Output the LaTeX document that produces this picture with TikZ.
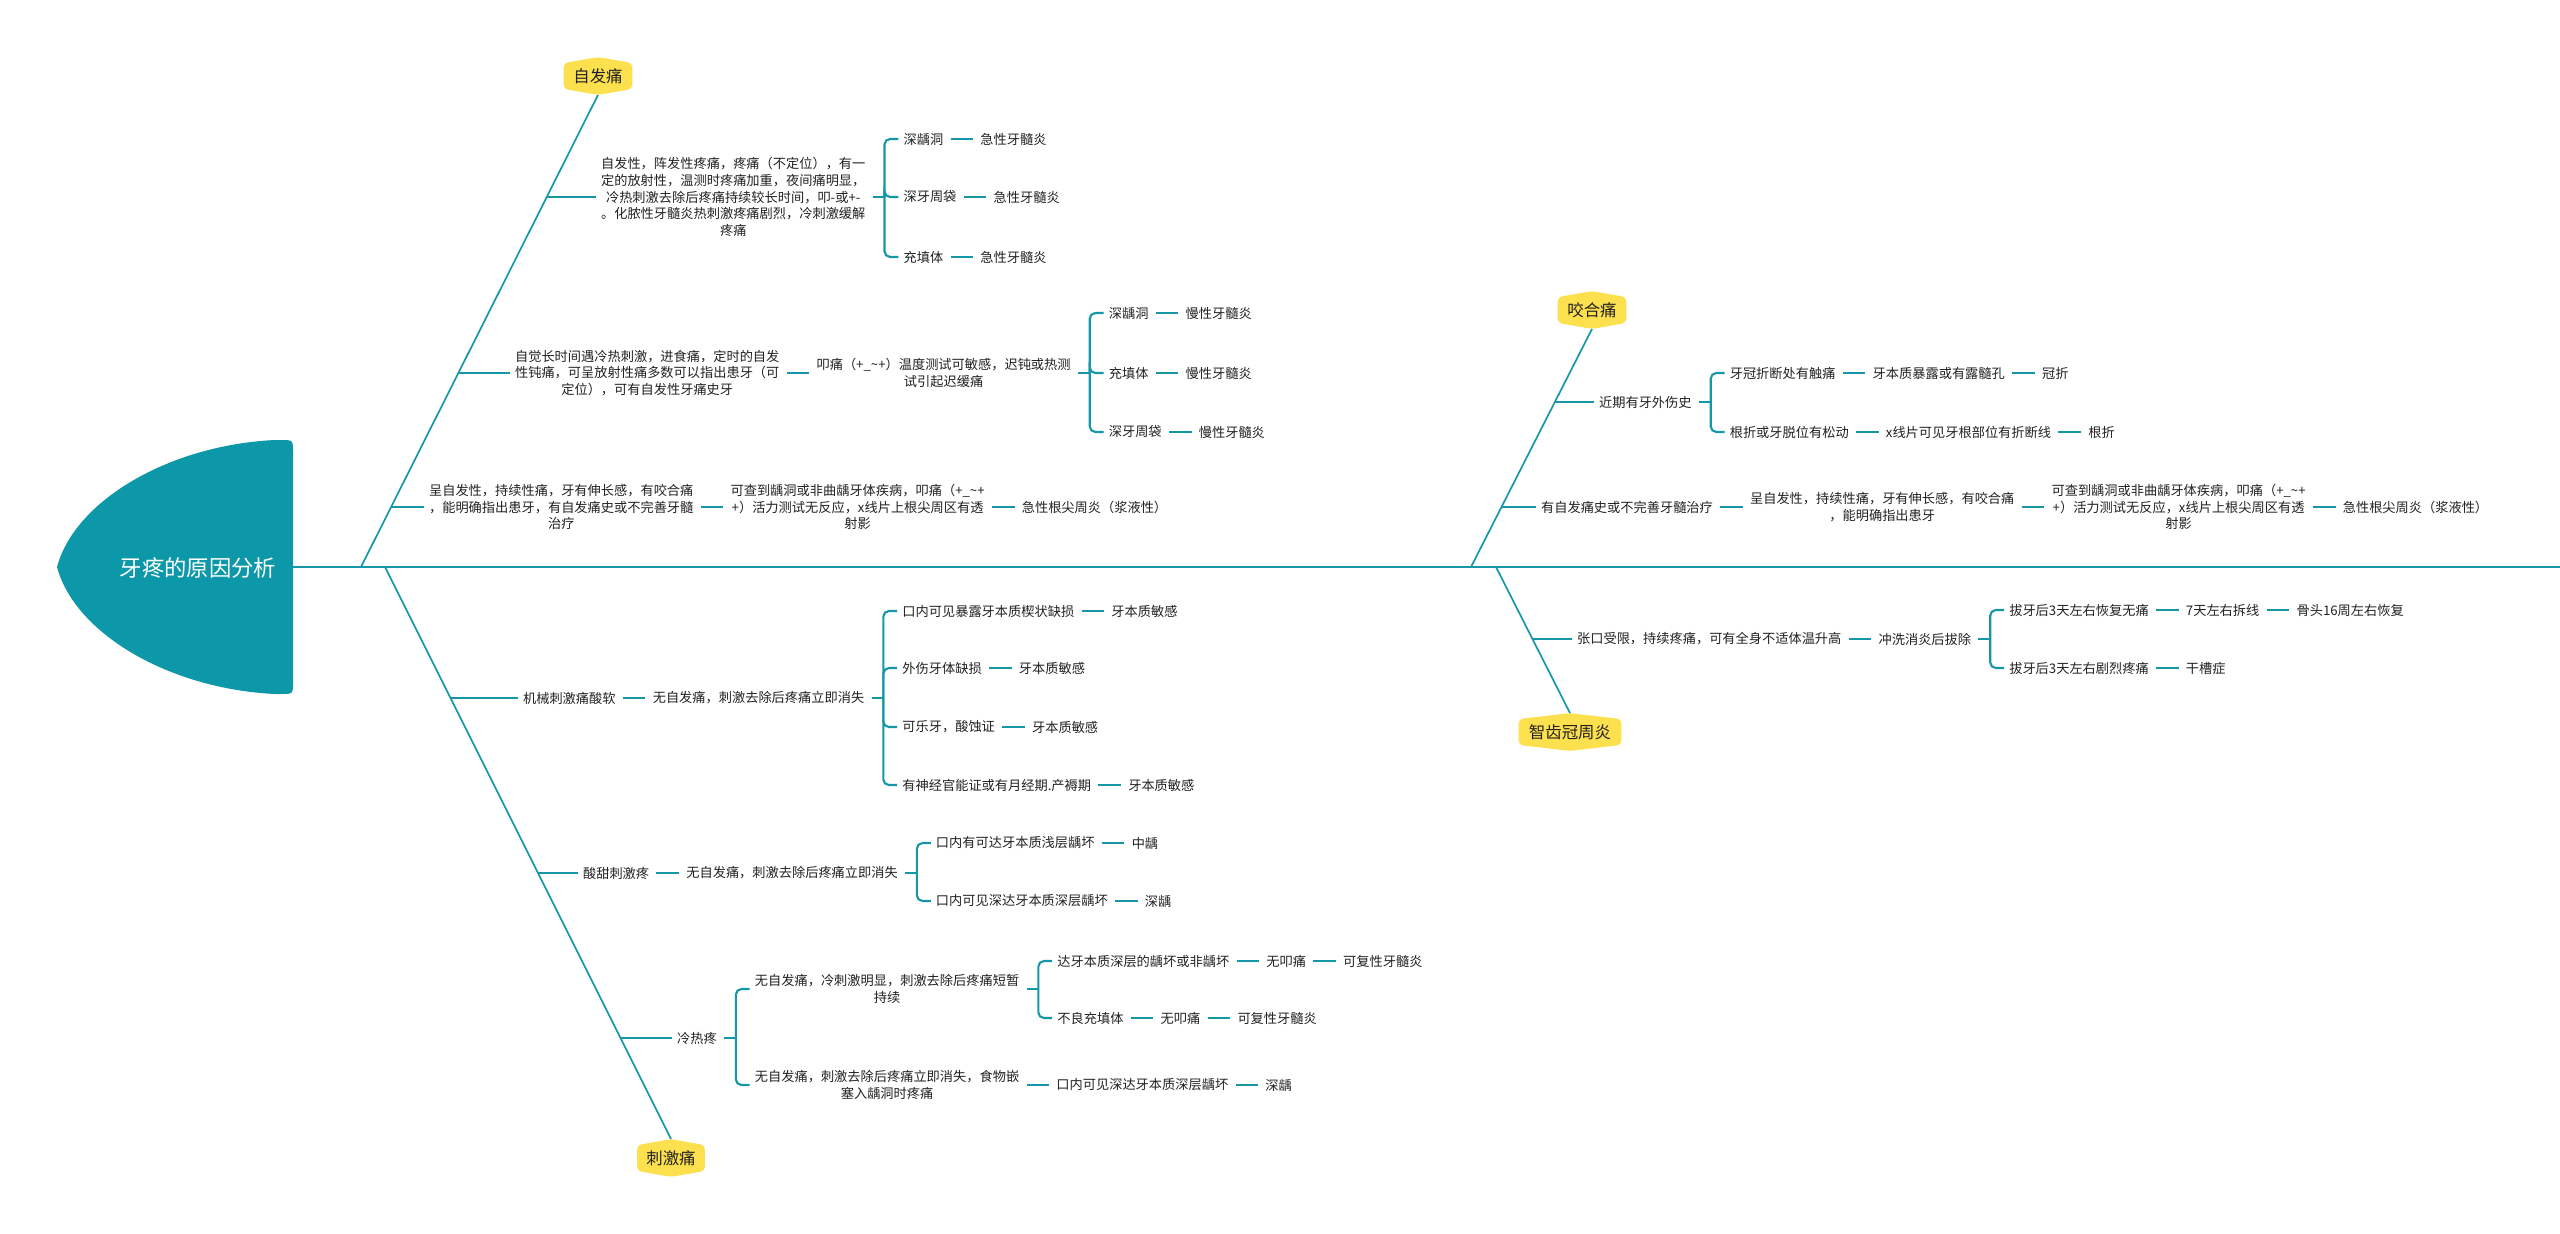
\documentclass[tikz,border=0pt]{standalone}
\usepackage{fontspec}
\setmainfont{Noto Sans CJK SC}
\usetikzlibrary{calc}
\pgfdeclarelayer{bg}
\pgfsetlayers{bg,main}
\definecolor{teal1}{HTML}{1597A8}
\definecolor{headc}{HTML}{0C98A9}
\definecolor{tagc}{HTML}{FDE04E}
\definecolor{txtc}{HTML}{222222}
\tikzset{
 txt/.style={font=\fontsize{9.4}{12}\selectfont, text=txtc, inner sep=2pt, align=center, anchor=west},
 tagn/.style={font=\fontsize{11.7}{14}\selectfont, text=txtc, inner sep=0pt, minimum height=26.5pt},
 spine/.style={draw=teal1, line width=1.5pt},
 bone/.style={draw=teal1, line width=1.2pt},
 branch/.style={draw=teal1, line width=1.2pt, shorten >=1.5pt},
 link/.style={draw=teal1, line width=1.8pt, shorten <=3pt, shorten >=3pt},
 stub/.style={draw=teal1, line width=1.5pt, shorten <=3pt},
 brk/.style={draw=teal1, line width=1.5pt, rounded corners=4pt, shorten >=1.5pt},
}
\newcommand\nxt[3]{\node[txt] (#2) at ($(#1.east)+(31,0)$) {#3}; \draw[link] (#1.east) -- (#2.west);}
\newcommand\mkbrk[2]{\coordinate (#2) at ($(#1.east)+(16,0)$); \draw[stub] (#1.east) -- (#2);}
\newcommand\kid[4]{\node[txt] (#2) at ($(#1)+(16,#3)$) {#4}; \draw[brk] (#1) |- (#2.west);}
\newcommand\tagnode[5]{%
 \node[tagn, minimum width=#4] (#1) at (#2,#3) {#5};
 \begin{pgfonlayer}{bg}
 \fill[tagc, rounded corners=3pt] ($(#1.north west)+(0,6)$) -- (#1.north) -- ($(#1.north east)+(0,6)$) -- ($(#1.south east)+(0,-6)$) -- (#1.south) -- ($(#1.south west)+(0,-6)$) -- cycle;
 \end{pgfonlayer}}
\begin{document}
\begin{tikzpicture}[x=0.25mm, y=-0.25mm]
\useasboundingbox (0,0) rectangle (2560,1233);
\begin{pgfonlayer}{bg}
\fill[white] (0,0) rectangle (2560,1233);
\end{pgfonlayer}
% head
\fill[headc] (57,567) .. controls (75,500) and (170,445) .. (275,440) -- (281,440) .. controls (293,440) .. (293,452) -- (293,682) .. controls (293,694) .. (281,694) -- (275,694) .. controls (170,689) and (75,634) .. (57,567) -- cycle;
\node[font=\fontsize{15.9}{18}\selectfont, text=white] (title) at (198,568) {牙疼的原因分析};
\coordinate (sp0) at (293,567);
\coordinate (spE) at (2560,567);
\draw[spine] (sp0) -- (spE);
% tags
\tagnode{tagA}{598}{76}{48.4pt}{自发痛}
\tagnode{tagB}{671}{1158}{47.7pt}{刺激痛}
\tagnode{tagC}{1592}{310}{48.4pt}{咬合痛}
\tagnode{tagD}{1570}{732}{72.6pt}{智齿冠周炎}
% bones
\coordinate (bUL) at (361,567);
\coordinate (bLL) at (385,567);
\coordinate (bUR) at (1471,567);
\coordinate (bLR) at (1496,567);
\draw[bone] (bUL) -- (tagA.south);
\draw[bone] (bLL) -- (tagB.north);
\draw[bone] (bUR) -- (tagC.south);
\draw[bone] (bLR) -- (tagD.north);

% ===== A1 =====
\node[txt] (a1) at (598,197) {自发性，阵发性疼痛，疼痛（不定位），有一\\定的放射性，温测时疼痛加重，夜间痛明显，\\冷热刺激去除后疼痛持续较长时间，叩-或+-\\。化脓性牙髓炎热刺激疼痛剧烈，冷刺激缓解\\疼痛};
\coordinate (jA1) at (intersection of bUL--tagA.south and a1.west--a1.east);
\draw[branch] (jA1) -- (a1.west);
\mkbrk{a1}{k1}
\kid{k1}{a11}{-58}{深龋洞} \nxt{a11}{a11r}{急性牙髓炎}
\kid{k1}{a12}{0}{深牙周袋} \nxt{a12}{a12r}{急性牙髓炎}
\kid{k1}{a13}{60}{充填体} \nxt{a13}{a13r}{急性牙髓炎}

% ===== A2 =====
\node[txt] (a2) at (512,373) {自觉长时间遇冷热刺激，进食痛，定时的自发\\性钝痛，可呈放射性痛多数可以指出患牙（可\\定位），可有自发性牙痛史牙};
\coordinate (jA2) at (intersection of bUL--tagA.south and a2.west--a2.east);
\draw[branch] (jA2) -- (a2.west);
\nxt{a2}{a2b}{叩痛（+\_\textasciitilde+）温度测试可敏感，迟钝或热测\\试引起迟缓痛}
\mkbrk{a2b}{k2}
\kid{k2}{a21}{-60}{深龋洞} \nxt{a21}{a21r}{慢性牙髓炎}
\kid{k2}{a22}{0}{充填体} \nxt{a22}{a22r}{慢性牙髓炎}
\kid{k2}{a23}{59}{深牙周袋} \nxt{a23}{a23r}{慢性牙髓炎}

% ===== A3 =====
\node[txt] (a3) at (426,507) {呈自发性，持续性痛，牙有伸长感，有咬合痛\\，能明确指出患牙，有自发痛史或不完善牙髓\\治疗};
\coordinate (jA3) at (intersection of bUL--tagA.south and a3.west--a3.east);
\draw[branch] (jA3) -- (a3.west);
\nxt{a3}{a3b}{可查到龋洞或非曲龋牙体疾病，叩痛（+\_\textasciitilde+\\+）活力测试无反应，x线片上根尖周区有透\\射影}
\nxt{a3b}{a3c}{急性根尖周炎（浆液性）}

% ===== B1 =====
\node[txt] (b1) at (520,698) {机械刺激痛酸软};
\coordinate (jB1) at (intersection of bLL--tagB.north and b1.west--b1.east);
\draw[branch] (jB1) -- (b1.west);
\nxt{b1}{b1b}{无自发痛，刺激去除后疼痛立即消失}
\mkbrk{b1b}{k3}
\kid{k3}{b11}{-87}{口内可见暴露牙本质楔状缺损} \nxt{b11}{b11r}{牙本质敏感}
\kid{k3}{b12}{-30}{外伤牙体缺损} \nxt{b12}{b12r}{牙本质敏感}
\kid{k3}{b13}{29}{可乐牙，酸蚀证} \nxt{b13}{b13r}{牙本质敏感}
\kid{k3}{b14}{87}{有神经官能证或有月经期.产褥期} \nxt{b14}{b14r}{牙本质敏感}

% ===== B2 =====
\node[txt] (b2) at (580,873) {酸甜刺激疼};
\coordinate (jB2) at (intersection of bLL--tagB.north and b2.west--b2.east);
\draw[branch] (jB2) -- (b2.west);
\nxt{b2}{b2b}{无自发痛，刺激去除后疼痛立即消失}
\mkbrk{b2b}{k4}
\kid{k4}{b21}{-30}{口内有可达牙本质浅层龋坏} \nxt{b21}{b21r}{中龋}
\kid{k4}{b22}{28}{口内可见深达牙本质深层龋坏} \nxt{b22}{b22r}{深龋}

% ===== B3 =====
\node[txt] (b3) at (674,1038) {冷热疼};
\coordinate (jB3) at (intersection of bLL--tagB.north and b3.west--b3.east);
\draw[branch] (jB3) -- (b3.west);
\mkbrk{b3}{k5}
\kid{k5}{b31}{-49}{无自发痛，冷刺激明显，刺激去除后疼痛短暂\\持续}
\mkbrk{b31}{k6}
\kid{k6}{b311}{-28}{达牙本质深层的龋坏或非龋坏} \nxt{b311}{b311r}{无叩痛} \nxt{b311r}{b311s}{可复性牙髓炎}
\kid{k6}{b312}{29}{不良充填体} \nxt{b312}{b312r}{无叩痛} \nxt{b312r}{b312s}{可复性牙髓炎}
\kid{k5}{b32}{47}{无自发痛，刺激去除后疼痛立即消失，食物嵌\\塞入龋洞时疼痛} \nxt{b32}{b32r}{口内可见深达牙本质深层龋坏} \nxt{b32r}{b32s}{深龋}

% ===== C1 =====
\node[txt] (c1) at (1596,402) {近期有牙外伤史};
\coordinate (jC1) at (intersection of bUR--tagC.south and c1.west--c1.east);
\draw[branch] (jC1) -- (c1.west);
\mkbrk{c1}{k7}
\kid{k7}{c11}{-29}{牙冠折断处有触痛} \nxt{c11}{c11r}{牙本质暴露或有露髓孔} \nxt{c11r}{c11s}{冠折}
\kid{k7}{c12}{30}{根折或牙脱位有松动} \nxt{c12}{c12r}{x线片可见牙根部位有折断线} \nxt{c12r}{c12s}{根折}

% ===== C2 =====
\node[txt] (c2) at (1538,507) {有自发痛史或不完善牙髓治疗};
\coordinate (jC2) at (intersection of bUR--tagC.south and c2.west--c2.east);
\draw[branch] (jC2) -- (c2.west);
\nxt{c2}{c2b}{呈自发性，持续性痛，牙有伸长感，有咬合痛\\，能明确指出患牙}
\nxt{c2b}{c2c}{可查到龋洞或非曲龋牙体疾病，叩痛（+\_\textasciitilde+\\+）活力测试无反应，x线片上根尖周区有透\\射影}
\nxt{c2c}{c2d}{急性根尖周炎（浆液性）}

% ===== D1 =====
\node[txt] (d1) at (1574,639) {张口受限，持续疼痛，可有全身不适体温升高};
\coordinate (jD1) at (intersection of bLR--tagD.north and d1.west--d1.east);
\draw[branch] (jD1) -- (d1.west);
\nxt{d1}{d1b}{冲洗消炎后拔除}
\mkbrk{d1b}{k8}
\kid{k8}{d11}{-29}{拔牙后3天左右恢复无痛} \nxt{d11}{d11r}{7天左右拆线} \nxt{d11r}{d11s}{骨头16周左右恢复}
\kid{k8}{d12}{29}{拔牙后3天左右剧烈疼痛} \nxt{d12}{d12r}{干槽症}
\end{tikzpicture}
\end{document}
